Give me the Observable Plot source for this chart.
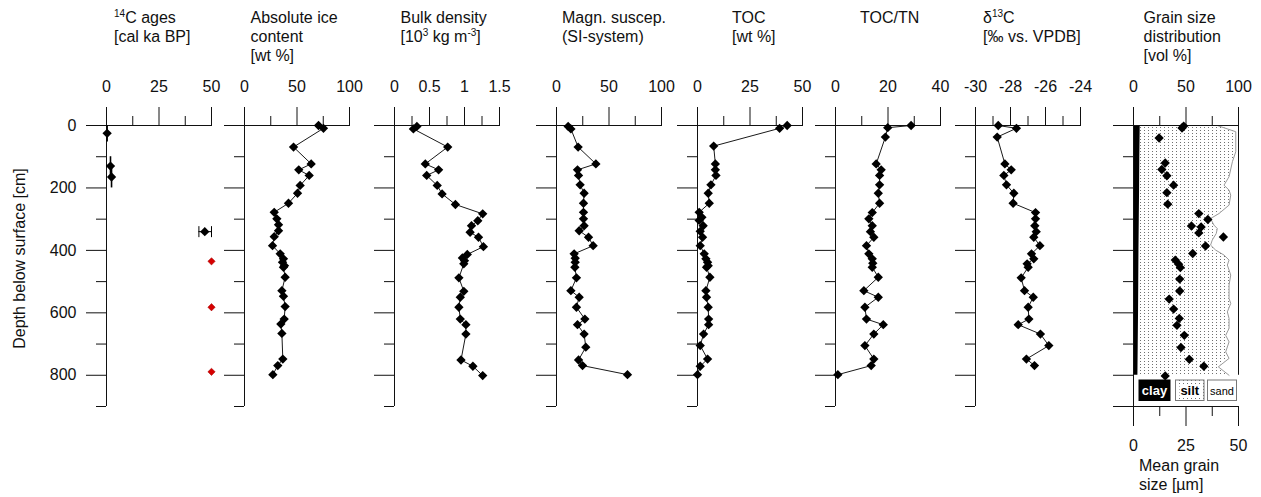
<!DOCTYPE html>
<html>
<head>
<meta charset="utf-8">
<script src="https://cdn.jsdelivr.net/npm/d3@7"></script>
<script src="https://cdn.jsdelivr.net/npm/@observablehq/plot@0.6"></script>
<style>
  html, body { margin: 0; padding: 0; background: #fff; }
  #fig { position: relative; width: 1261px; height: 497px; overflow: hidden;
         font-family: "Liberation Sans", Arial, sans-serif; color: #111; background: #fff; }
  .title { position: absolute; top: 8px; font-size: 16px; line-height: 19px; white-space: nowrap; }
  .title .sup { font-size: 10px; vertical-align: 6px; line-height: 0; }
  .ylab { position: absolute; width: 240px; text-align: center; font-size: 16px; line-height: 19px;
          transform: rotate(-90deg); transform-origin: 50% 50%; white-space: nowrap; }
  .xlab { position: absolute; font-size: 16px; line-height: 18.5px; white-space: nowrap; }
</style>
</head>
<body>
<div id="fig"></div>
<script>
// ---------------- DATA ----------------
// shared depth axis [cm]
const depthDomain = [0, 900];
const majorDepth = [0, 200, 400, 600, 800];
const minorDepth = [100, 300, 500, 700, 900];

// Panel 1: 14C ages [cal ka BP]
const ageDepth       = [25, 130, 165, 340];
const ageValue       = [0.3, 1.9, 2.4, 46.8];
const ageDepthTop    = [0, 100, 135, null];
const ageDepthBottom = [53, 160, 200, null];
const ageErrLow      = [null, null, null, 44];
const ageErrHigh     = [null, null, null, 50];
const ageLimit = 50;                          // beyond dating limit
const beyondLimitDepth = [435, 582, 789];

// Panel 2: absolute ice content [wt %]  ([depth, value])
const iceContent = [[0,70.5],[9,75.2],[69,46.7],[123,63.5],[142,51.7],[160,61.6],[192,53.0],[217,50.5],[249,41.9],[278,28.3],[299,30.8],[318,32.4],[337,32.4],[356,28.3],[385,26.7],[411,34.0],[427,37.1],[438,36.2],[449,38.1],[454,37.1],[486,38.7],[529,35.6],[547,37.1],[580,38.7],[620,37.8],[636,34.6],[666,35.6],[748,36.5],[769,31.7],[798,27.0]];

// Panel 3: bulk density [10^3 kg m-3]
const bulkDensity = [[3,0.32],[11,0.27],[69,0.76],[123,0.44],[142,0.63],[160,0.46],[192,0.61],[219,0.68],[253,0.87],[283,1.26],[305,1.19],[321,1.10],[342,1.08],[358,1.20],[388,1.27],[413,1.04],[424,0.97],[433,1.00],[443,0.99],[488,0.92],[531,0.99],[550,0.94],[582,0.92],[620,0.94],[638,1.02],[668,1.02],[751,0.95],[771,1.12],[801,1.26]];

// Panel 4: magnetic susceptibility (SI)
const magSusc = [[3,11.1],[11,13.7],[69,20.6],[123,37.5],[142,20.0],[160,21.0],[190,22.5],[217,26.3],[249,25.7],[278,25.7],[299,25.7],[321,26.3],[337,21.6],[358,30.5],[385,34.9],[411,16.8],[425,17.8],[438,17.8],[454,17.5],[488,19.0],[529,13.7],[550,21.6],[582,19.0],[620,27.0],[638,20.0],[668,26.3],[710,27.9],[751,21.0],[769,24.8],[798,67.6]];

// Panel 5: TOC [wt %]
const toc = [[0,42.7],[9,39.1],[66,7.7],[123,8.5],[142,8.5],[160,8.8],[190,6.4],[217,5.1],[249,5.6],[278,0.8],[294,2.1],[304,0.8],[321,2.7],[339,1.3],[358,2.4],[385,1.3],[411,3.2],[427,4.0],[438,4.8],[449,5.1],[454,4.3],[486,5.9],[529,4.0],[550,4.3],[582,5.1],[620,5.3],[638,5.3],[668,2.9],[705,1.3],[748,4.8],[771,1.3],[798,0.0]];

// Panel 6: TOC/TN
const tocTn = [[0,28.8],[7,19.9],[37,19.0],[123,15.5],[142,17.4],[160,16.8],[190,16.8],[217,16.3],[249,16.8],[279,14.0],[299,12.7],[321,14.0],[340,13.3],[358,14.6],[385,11.8],[411,12.7],[427,14.0],[441,14.2],[454,14.0],[486,16.3],[529,10.8],[550,16.3],[582,11.2],[620,11.8],[638,18.2],[668,14.6],[705,11.2],[748,14.6],[769,13.6],[798,0.9]];

// Panel 7: d13C [permil vs. VPDB]
const d13C = [[0,-28.70],[9,-27.66],[37,-28.76],[123,-28.32],[142,-27.96],[160,-28.38],[190,-28.23],[217,-27.81],[249,-27.85],[279,-26.57],[299,-26.57],[321,-26.61],[340,-26.53],[358,-26.67],[385,-26.32],[411,-26.80],[427,-26.67],[443,-27.05],[454,-26.99],[488,-27.39],[529,-27.20],[550,-26.70],[582,-26.99],[620,-26.95],[638,-27.56],[668,-26.29],[705,-25.81],[748,-27.09],[769,-26.63]];

// Panel 8: grain size distribution [vol %] and mean grain size [um]
const grainDepth = [0,20,84,116,164,191,207,223,255,282,298,319,330,346,367,383,399,415,431,447,479,511,554,570,597,618,650,672,693,725,746,773,800];
const siltSandBoundary = [79.8,97.4,97.4,94.2,91.0,86.2,91.0,92.6,91.0,81.4,73.4,76.6,79.8,78.8,75.0,73.4,78.2,86.2,91.0,89.4,92.6,91.0,91.0,92.6,89.4,91.0,91.0,87.8,91.0,87.8,91.0,80.8,91.0];
const clayDepth = [0,100,200,300,400,500,600,700,800];
const clayPct   = [6.4,6.0,5.8,5.5,5.2,5.0,4.8,4.5,4.2];
const meanGrain = [[2,23.9],[8,23.1],[40,12.2],[120,15.1],[141,13.5],[161,15.9],[191,19.1],[215,15.9],[252,16.3],[282,31.1],[301,35.4],[322,27.6],[325,32.2],[344,31.1],[357,42.8],[386,34.3],[410,28.2],[431,19.9],[444,21.5],[455,22.3],[492,22.0],[530,22.0],[556,17.0],[588,19.1],[618,21.8],[640,20.7],[672,24.2],[711,22.6],[749,26.6],[771,33.5],[802,15.1]];

// ---------------- LAYOUT ----------------
const fig = document.getElementById("fig");
const H = 497, TOP = 125, BOTTOM = 406, PW = 105;
const FONT = '"Liberation Sans", Arial, sans-serif';
const INK = "#111";
const fmt = d => String(d);
const blank = () => "";

// hidden defs with the silt pattern
const defs = d3.create("svg").attr("width", 0).attr("height", 0)
  .style("position", "absolute").style("left", "0").style("top", "0");
const pat = defs.append("defs").append("pattern").attr("id", "siltPattern")
  .attr("width", 4).attr("height", 3).attr("patternUnits", "userSpaceOnUse");
pat.append("rect").attr("width", 4).attr("height", 3).attr("fill", "#fff");
pat.append("rect").attr("x", 1).attr("y", 1).attr("width", 1).attr("height", 1).attr("fill", "#707070");
fig.append(defs.node());

const toRows = arr => arr.map(([depth, value]) => ({depth, value}));

function dataMarks(rows, r = 4.2) {
  return [
    Plot.line(rows, {x: "value", y: "depth", stroke: "#1a1a1a", strokeWidth: 1}),
    Plot.dot(rows, {x: "value", y: "depth", symbol: "diamond2", r, fill: "#000"})
  ];
}

function panel({x0, domain, major, minor, labels = false, under = [], marks = [], depthMajor = majorDepth, frame = true, topAxis = true, bottom = []}) {
  const mL = labels ? x0 : 30, mR = 20;
  const axes = [];
  if (frame) {
    axes.push(
      Plot.ruleY([depthDomain[0]], {stroke: INK}),
      Plot.ruleX([domain[0]], {stroke: INK}),
      Plot.axisY(depthMajor, {anchor: "left", tickSize: 20, tickPadding: 10, tickFormat: labels ? fmt : blank, label: null}),
      Plot.axisY(minorDepth, {anchor: "left", tickSize: 10, tickFormat: blank, label: null})
    );
  }
  if (topAxis) {
    axes.push(
      Plot.axisX(major, {anchor: "top", tickSize: 19, tickPadding: 15, tickFormat: fmt, label: null}),
      Plot.axisX(minor, {anchor: "top", tickSize: 10, tickFormat: blank, label: null})
    );
  }
  const svg = Plot.plot({
    width: mL + PW + mR, height: H,
    marginTop: TOP, marginBottom: H - BOTTOM, marginLeft: mL, marginRight: mR,
    x: {domain, label: null, axis: null},
    y: {domain: depthDomain, reverse: true, label: null, axis: null},
    style: {fontFamily: FONT, fontSize: "16px", color: INK, background: "transparent", overflow: "visible"},
    marks: [...under, ...axes, ...bottom, ...marks]
  });
  svg.style.position = "absolute";
  svg.style.left = (x0 - mL) + "px";
  svg.style.top = "0px";
  fig.append(svg);
}

function title(x, lines) {
  const d = document.createElement("div");
  d.className = "title";
  d.style.left = x + "px";
  d.innerHTML = lines.join("<br>");
  fig.append(d);
}

// Panel 1: 14C ages
const ages = ageDepth.map((depth, i) => ({depth, age: ageValue[i], top: ageDepthTop[i], bottom: ageDepthBottom[i], lo: ageErrLow[i], hi: ageErrHigh[i]}));
const depthBars = ages.filter(d => d.top != null);
const ageBars = ages.filter(d => d.lo != null);
const capSymbol = {draw(ctx, size) { const h = Math.sqrt(size / Math.PI); ctx.moveTo(0, -h); ctx.lineTo(0, h); }};
panel({
  x0: 106, domain: [0, 50], major: [0, 25, 50], minor: [12.5, 37.5], labels: true,
  marks: [
    Plot.ruleX(depthBars, {x: "age", y1: "top", y2: "bottom", stroke: "#000", strokeWidth: 1.6}),
    Plot.ruleY(ageBars, {y: "depth", x1: "lo", x2: "hi", stroke: "#000", strokeWidth: 1}),
    Plot.dot(ageBars.flatMap(d => [{depth: d.depth, age: d.lo}, {depth: d.depth, age: d.hi}]),
      {x: "age", y: "depth", symbol: capSymbol, r: 5.5, stroke: "#000", fill: "none", strokeWidth: 1}),
    Plot.dot(ages, {x: "age", y: "depth", symbol: "diamond2", r: 4.2, fill: "#000"}),
    Plot.dot(beyondLimitDepth.map(depth => ({depth, age: ageLimit})),
      {x: "age", y: "depth", symbol: "diamond2", r: 3.3, fill: "#d60000", stroke: "#a00000", strokeWidth: 0.5})
  ]
});
title(114, ['<span class="sup">14</span>C ages', '[cal ka BP]']);

panel({x0: 244.3, domain: [0, 100], major: [0, 50, 100], minor: [25, 75], marks: dataMarks(toRows(iceContent))});
title(250.5, ['Absolute ice', 'content', '[wt %]']);

panel({x0: 394.3, domain: [0, 1.5], major: [0, 0.5, 1, 1.5], minor: [0.25, 0.75, 1.25], marks: dataMarks(toRows(bulkDensity))});
title(400.5, ['Bulk density', '[10<span class="sup">3</span> kg m<span class="sup">-3</span>]']);

panel({x0: 555.7, domain: [0, 100], major: [0, 50, 100], minor: [25, 75], marks: dataMarks(toRows(magSusc))});
title(562, ['Magn. suscep.', '(SI-system)']);

panel({x0: 696.7, domain: [0, 50], major: [0, 25, 50], minor: [12.5, 37.5], marks: dataMarks(toRows(toc))});
title(732, ['TOC', '[wt %]']);

panel({x0: 835, domain: [0, 40], major: [0, 20, 40], minor: [10, 30], marks: dataMarks(toRows(tocTn))});
title(860, ['TOC/TN']);

panel({x0: 975, domain: [-30, -24], major: [-30, -28, -26, -24], minor: [-29, -27, -25], marks: dataMarks(toRows(d13C))});
title(983, ['δ<span class="sup">13</span>C', '[‰ vs. VPDB]']);

// Panel 8: grain size distribution (vol %)
const grain = grainDepth.map((depth, i) => ({depth, silt: siltSandBoundary[i]}));
const clay = clayDepth.map((depth, i) => ({depth, clay: clayPct[i]}));
const [gMin, gMax] = d3.extent(grainDepth);
panel({
  x0: 1133.3, domain: [0, 100], major: [0, 50, 100], minor: [25, 75],
  depthMajor: [...majorDepth, 900],
  under: [
    Plot.areaX(grain, {y: "depth", x: "silt", fill: "url(#siltPattern)", curve: "linear"}),
    Plot.lineX(grain, {y: "depth", x: "silt", stroke: "#9a9a9a", strokeWidth: 1}),
    Plot.areaX(clay, {y: "depth", x: "clay", fill: "#000", curve: "linear"})
  ],
  marks: [Plot.ruleX([100], {y1: gMin, y2: gMax, stroke: INK})]
});
// overlay: mean grain size [um] with its own bottom axis
panel({
  x0: 1133.3, domain: [0, 50], major: [0, 25, 50], minor: [12.5, 37.5], frame: false, topAxis: false,
  bottom: [
    Plot.ruleY([depthDomain[1]], {stroke: INK}),
    Plot.axisX([0, 25, 50], {anchor: "bottom", tickSize: 20, tickPadding: 13, tickFormat: fmt, label: null}),
    Plot.axisX([12.5, 37.5], {anchor: "bottom", tickSize: 10, tickFormat: blank, label: null})
  ],
  marks: [Plot.dot(toRows(meanGrain), {x: "value", y: "depth", symbol: "diamond2", r: 4.2, fill: "#000"})]
});
title(1143.5, ['Grain size', 'distribution', '[vol %]']);

// legend for grain-size classes
const leg = d3.create("svg").attr("width", 100).attr("height", 24)
  .style("position", "absolute").style("left", "1138px").style("top", "379px").style("overflow", "visible")
  .style("font-family", FONT);
leg.append("rect").attr("x", 1).attr("y", 1).attr("width", 31).attr("height", 20.5).attr("fill", "#000").attr("stroke", "#000");
leg.append("text").attr("x", 16.5).attr("y", 16).attr("text-anchor", "middle").attr("fill", "#fff")
  .attr("font-size", 13).attr("font-weight", "bold").text("clay");
leg.append("rect").attr("x", 37.5).attr("y", 1).attr("width", 28.5).attr("height", 20.5).attr("fill", "url(#siltPattern)").attr("stroke", "#777");
leg.append("rect").attr("x", 41.5).attr("y", 5).attr("width", 20.5).attr("height", 13).attr("fill", "#fff");
leg.append("text").attr("x", 51.8).attr("y", 16).attr("text-anchor", "middle").attr("fill", "#000")
  .attr("font-size", 13).attr("font-weight", "bold").text("silt");
leg.append("rect").attr("x", 69.5).attr("y", 1).attr("width", 29).attr("height", 20.5).attr("fill", "#fff").attr("stroke", "#777");
leg.append("text").attr("x", 84).attr("y", 15.5).attr("text-anchor", "middle").attr("fill", "#000")
  .attr("font-size", 11).text("sand");
fig.append(leg.node());

// axis titles
const yl = document.createElement("div");
yl.className = "ylab";
yl.style.left = (19 - 120) + "px";
yl.style.top = (258 - 9.5) + "px";
yl.textContent = "Depth below surface [cm]";
fig.append(yl);

const xl = document.createElement("div");
xl.className = "xlab";
xl.style.left = "1139px";
xl.style.top = "457px";
xl.innerHTML = "Mean grain<br>size [µm]";
fig.append(xl);
</script>
</body>
</html>
